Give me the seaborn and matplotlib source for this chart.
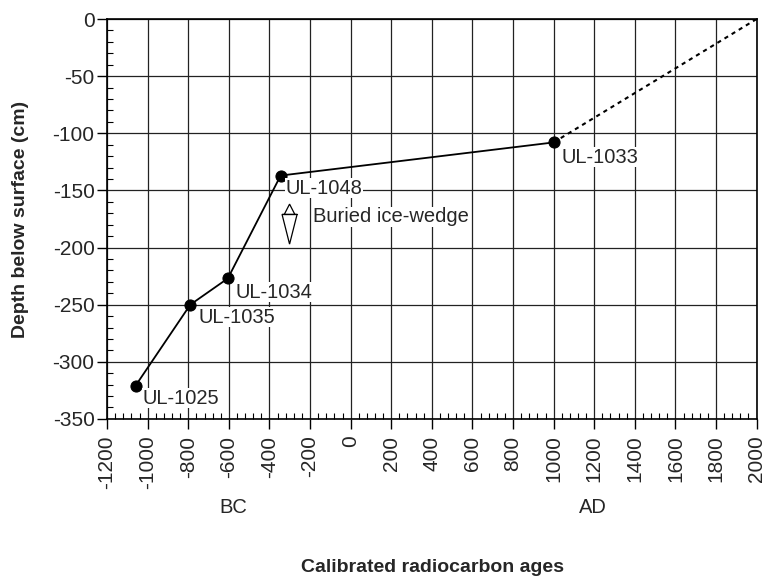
import numpy as np
import pandas as pd
import matplotlib
matplotlib.use("Agg")
import matplotlib.pyplot as plt
import seaborn as sns
from matplotlib.ticker import MultipleLocator
from matplotlib.transforms import blended_transform_factory

# dated samples: calibrated age (yr) and depth (cm)
samples = ["UL-1025", "UL-1035", "UL-1034", "UL-1048", "UL-1033"]
ages = [-1060, -790, -605, -345, 1000]
depths = [-321, -250, -227, -137, -108]

# extrapolation to the surface
extrap_ages = [1000, 2000]
extrap_depths = [-108, 0]

x_ticks = list(range(-1200, 2001, 200))
y_ticks = list(range(-350, 1, 50))

df = pd.DataFrame({"sample": samples, "age": ages, "depth": depths})

sns.set_style("white")
plt.rcParams["font.family"] = ["Liberation Sans", "DejaVu Sans"]
plt.rcParams["axes.unicode_minus"] = False

fig = plt.figure(figsize=(7.65, 5.77), dpi=100)
ax = fig.add_axes([0.140, 0.274, 0.849, 0.693])

sns.lineplot(data=df, x="age", y="depth", color="black", lw=1.3,
             marker="o", markersize=8, markeredgecolor="black",
             sort=False, ax=ax, zorder=5)
sns.lineplot(x=extrap_ages, y=extrap_depths, color="black", lw=1.5,
             linestyle=(0, (2, 2)), ax=ax, zorder=4)

ax.set_xlim(-1200, 2000)
ax.set_ylim(-350, 0)
ax.set_xticks(x_ticks)
ax.set_yticks(y_ticks)
ax.xaxis.set_minor_locator(MultipleLocator(40))
ax.yaxis.set_minor_locator(MultipleLocator(10))
ax.grid(True, which="major", color="#222222", lw=0.9)
for s in ax.spines.values():
    s.set_color("black")
    s.set_linewidth(1.2)

ax.tick_params(axis="both", which="major", direction="out", length=7,
               width=1, color="black", labelsize=15)
ax.tick_params(axis="x", which="major", pad=5)
ax.tick_params(axis="y", which="major", pad=2)
ax.tick_params(axis="both", which="minor", direction="in", length=4,
               width=0.8, color="black")
ax.tick_params(axis="x", which="both", bottom=True)
ax.tick_params(axis="y", which="both", left=True)
for lab in ax.get_xticklabels():
    lab.set_rotation(90)

ax.set_xlabel("")
ax.set_ylabel("Depth below surface (cm)", fontsize=14, fontweight="bold")
ax.yaxis.set_label_coords(-0.12, 0.5)

# sample labels (offset from marker, in data units)
offsets = {"UL-1025": (35, -11), "UL-1035": (40, -11), "UL-1034": (40, -12),
           "UL-1048": (25, -11), "UL-1033": (40, -13)}
for s, a, d in zip(samples, ages, depths):
    dx, dy = offsets[s]
    ax.text(a + dx, d + dy, s, fontsize=14.5, va="center", ha="left",
            zorder=6, bbox=dict(facecolor="white", edgecolor="none", pad=0.5))

# buried ice-wedge symbol
ax.fill([-338, -301, -264], [-171, -197, -171], facecolor="white",
        edgecolor="black", lw=0.9, zorder=6)
ax.fill([-327, -301, -275], [-171, -162, -171], facecolor="white",
        edgecolor="black", lw=0.9, zorder=6)
ax.plot([-338, -264], [-171, -171], color="black", lw=0.9, zorder=7)
ax.text(-185, -173, "Buried ice-wedge", fontsize=14.5, va="center", ha="left",
        zorder=6, bbox=dict(facecolor="white", edgecolor="none", pad=0.5))

trans = blended_transform_factory(ax.transData, ax.transAxes)
ax.text(-580, -0.222, "BC", fontsize=14.5, ha="center", va="center",
        transform=trans)
ax.text(1195, -0.222, "AD", fontsize=14.5, ha="center", va="center",
        transform=trans)
fig.text(0.565, 0.017, "Calibrated radiocarbon ages", fontsize=14,
         fontweight="bold", ha="center", va="center")

fig.savefig("out.png", dpi=100)
